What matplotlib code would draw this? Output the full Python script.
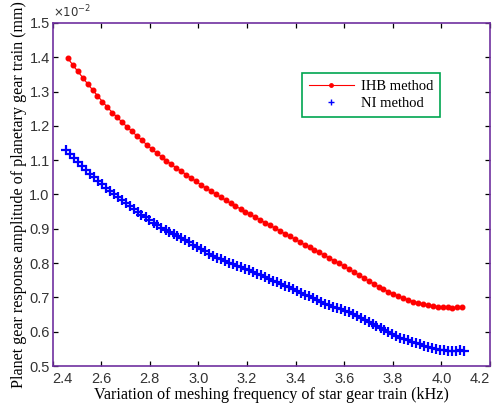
import matplotlib
matplotlib.use("Agg")
import matplotlib.pyplot as plt
from matplotlib.ticker import FixedLocator, FormatStrFormatter

# IHB method (red)  -- values in units of 1e-2 mm
ihb_x = [2.463, 2.483, 2.504, 2.524, 2.544, 2.565, 2.585, 2.605, 2.625, 2.646,
         2.666, 2.686, 2.707, 2.727, 2.747, 2.768, 2.788, 2.808, 2.828, 2.849,
         2.869, 2.889, 2.910, 2.930, 2.950, 2.971, 2.991, 3.011, 3.031, 3.052,
         3.072, 3.092, 3.113, 3.133, 3.153, 3.174, 3.194, 3.214, 3.234, 3.255,
         3.275, 3.295, 3.316, 3.336, 3.356, 3.376, 3.397, 3.417, 3.437, 3.458,
         3.478, 3.498, 3.519, 3.539, 3.559, 3.580, 3.600, 3.620, 3.641, 3.661,
         3.681, 3.701, 3.722, 3.742, 3.762, 3.782, 3.803, 3.823, 3.843, 3.863,
         3.884, 3.904, 3.924, 3.944, 3.965, 3.985, 4.005, 4.026, 4.046, 4.066,
         4.087]
ihb_y = [1.397, 1.378, 1.359, 1.341, 1.323, 1.305, 1.288, 1.271, 1.255, 1.239,
         1.225, 1.211, 1.197, 1.184, 1.171, 1.158, 1.145, 1.133, 1.121, 1.110,
         1.099, 1.088, 1.077, 1.068, 1.058, 1.048, 1.038, 1.028, 1.019, 1.010,
         1.001, 0.992, 0.983, 0.974, 0.966, 0.958, 0.950, 0.942, 0.934, 0.926,
         0.918, 0.910, 0.902, 0.894, 0.886, 0.878, 0.870, 0.862, 0.854, 0.846,
         0.838, 0.831, 0.823, 0.815, 0.807, 0.799, 0.791, 0.782, 0.774, 0.765,
         0.757, 0.748, 0.740, 0.731, 0.724, 0.717, 0.710, 0.704, 0.698, 0.693,
         0.688, 0.684, 0.680, 0.677, 0.675, 0.673, 0.672, 0.671, 0.670, 0.671,
         0.672]

# NI method (blue)
ni_x = [2.455, 2.471, 2.488, 2.504, 2.521, 2.537, 2.553, 2.570, 2.586, 2.603,
        2.619, 2.635, 2.652, 2.668, 2.684, 2.701, 2.717, 2.734, 2.750, 2.766,
        2.783, 2.799, 2.816, 2.832, 2.848, 2.865, 2.881, 2.898, 2.914, 2.930,
        2.947, 2.963, 2.980, 2.996, 3.012, 3.029, 3.045, 3.061, 3.078, 3.094,
        3.111, 3.127, 3.143, 3.160, 3.176, 3.193, 3.209, 3.225, 3.242, 3.258,
        3.275, 3.291, 3.307, 3.324, 3.340, 3.357, 3.373, 3.389, 3.406, 3.422,
        3.439, 3.455, 3.471, 3.488, 3.504, 3.520, 3.537, 3.553, 3.570, 3.586,
        3.602, 3.619, 3.635, 3.652, 3.668, 3.684, 3.701, 3.717, 3.733, 3.750,
        3.766, 3.782, 3.799, 3.815, 3.832, 3.848, 3.864, 3.881, 3.897, 3.913,
        3.930, 3.946, 3.963, 3.979, 3.996, 4.012, 4.028, 4.045, 4.061, 4.077,
        4.094]
ni_y = [1.131, 1.118, 1.106, 1.094, 1.082, 1.071, 1.061, 1.050, 1.040, 1.030,
        1.020, 1.010, 1.001, 0.992, 0.983, 0.974, 0.966, 0.957, 0.949, 0.941,
        0.933, 0.925, 0.918, 0.910, 0.903, 0.897, 0.891, 0.885, 0.879, 0.873,
        0.867, 0.861, 0.854, 0.848, 0.841, 0.834, 0.827, 0.821, 0.816, 0.811,
        0.806, 0.801, 0.796, 0.792, 0.788, 0.783, 0.779, 0.774, 0.769, 0.764,
        0.759, 0.754, 0.749, 0.744, 0.739, 0.734, 0.729, 0.724, 0.718, 0.713,
        0.708, 0.703, 0.698, 0.692, 0.687, 0.682, 0.677, 0.673, 0.669, 0.665,
        0.661, 0.657, 0.652, 0.646, 0.640, 0.634, 0.628, 0.622, 0.616, 0.610,
        0.604, 0.598, 0.592, 0.587, 0.583, 0.579, 0.575, 0.571, 0.567, 0.563,
        0.559, 0.555, 0.552, 0.549, 0.547, 0.546, 0.545, 0.545, 0.544, 0.546,
        0.545]

x_ticks = [2.4, 2.6, 2.8, 3.0, 3.2, 3.4, 3.6, 3.8, 4.0, 4.2]
y_ticks = [0.5, 0.6, 0.7, 0.8, 0.9, 1.0, 1.1, 1.2, 1.3, 1.4, 1.5]

serif = ["Liberation Serif", "DejaVu Serif"]
sans = ["Liberation Sans", "DejaVu Sans"]

fig = plt.figure(figsize=(5.03, 4.03), dpi=100)
ax = fig.add_axes([0.1044, 0.0918, 0.8696, 0.8512])

ax.plot(ihb_x, ihb_y, color="red", lw=0.9, marker="o", ms=3.3,
        mec="red", mfc="red", label="IHB method")
ax.plot(ni_x, ni_y, ls="none", color="blue", marker="+", ms=6.5, mew=1.6,
        label="NI method")

ax.set_xlim(2.4, 4.2)
ax.set_ylim(0.5, 1.5)
ax.xaxis.set_major_locator(FixedLocator(x_ticks))
ax.yaxis.set_major_locator(FixedLocator(y_ticks))
ax.xaxis.set_major_formatter(FormatStrFormatter("%.1f"))
ax.yaxis.set_major_formatter(FormatStrFormatter("%.1f"))

for s in ax.spines.values():
    s.set_color("#7030A0")
    s.set_linewidth(1.2)

ax.tick_params(direction="in", top=True, right=True, length=3.5, width=0.9,
               color="black", labelsize=10.5, labelcolor="#333333")
ax.tick_params(axis="y", pad=2)
ax.tick_params(axis="x", pad=4)
for lab in ax.get_xticklabels() + ax.get_yticklabels():
    lab.set_family(sans)
xl = ax.get_xticklabels()
xl[0].set_ha("left")
xl[-1].set_ha("right")

ax.set_xlabel("Variation of meshing frequency of star gear train (kHz)",
              family=serif, fontsize=11.6, labelpad=1)
ax.set_ylabel("Planet gear response amplitude of planetary gear train (mm)",
              family=serif, fontsize=11.6, labelpad=1.5)

ax.text(0.0, 1.008, r"$\times10^{-2}$", transform=ax.transAxes,
        fontsize=8.5, color="#333333", ha="left", va="bottom",
        family=sans)

leg = ax.legend(loc="upper left", bbox_to_anchor=(0.571, 0.854),
                prop={"family": serif, "size": 10.5}, frameon=True,
                fancybox=False, framealpha=1, borderpad=0.45,
                borderaxespad=0, markerscale=0.75,
                handlelength=3.1, handletextpad=0.5, labelspacing=0.3)
leg.get_frame().set_edgecolor("#00A550")
leg.get_frame().set_linewidth(1.2)
leg.legend_handles[1].set_markeredgewidth(1.0)
leg.legend_handles[0].set_linewidth(0.8)

fig.savefig("out.png", dpi=100)
